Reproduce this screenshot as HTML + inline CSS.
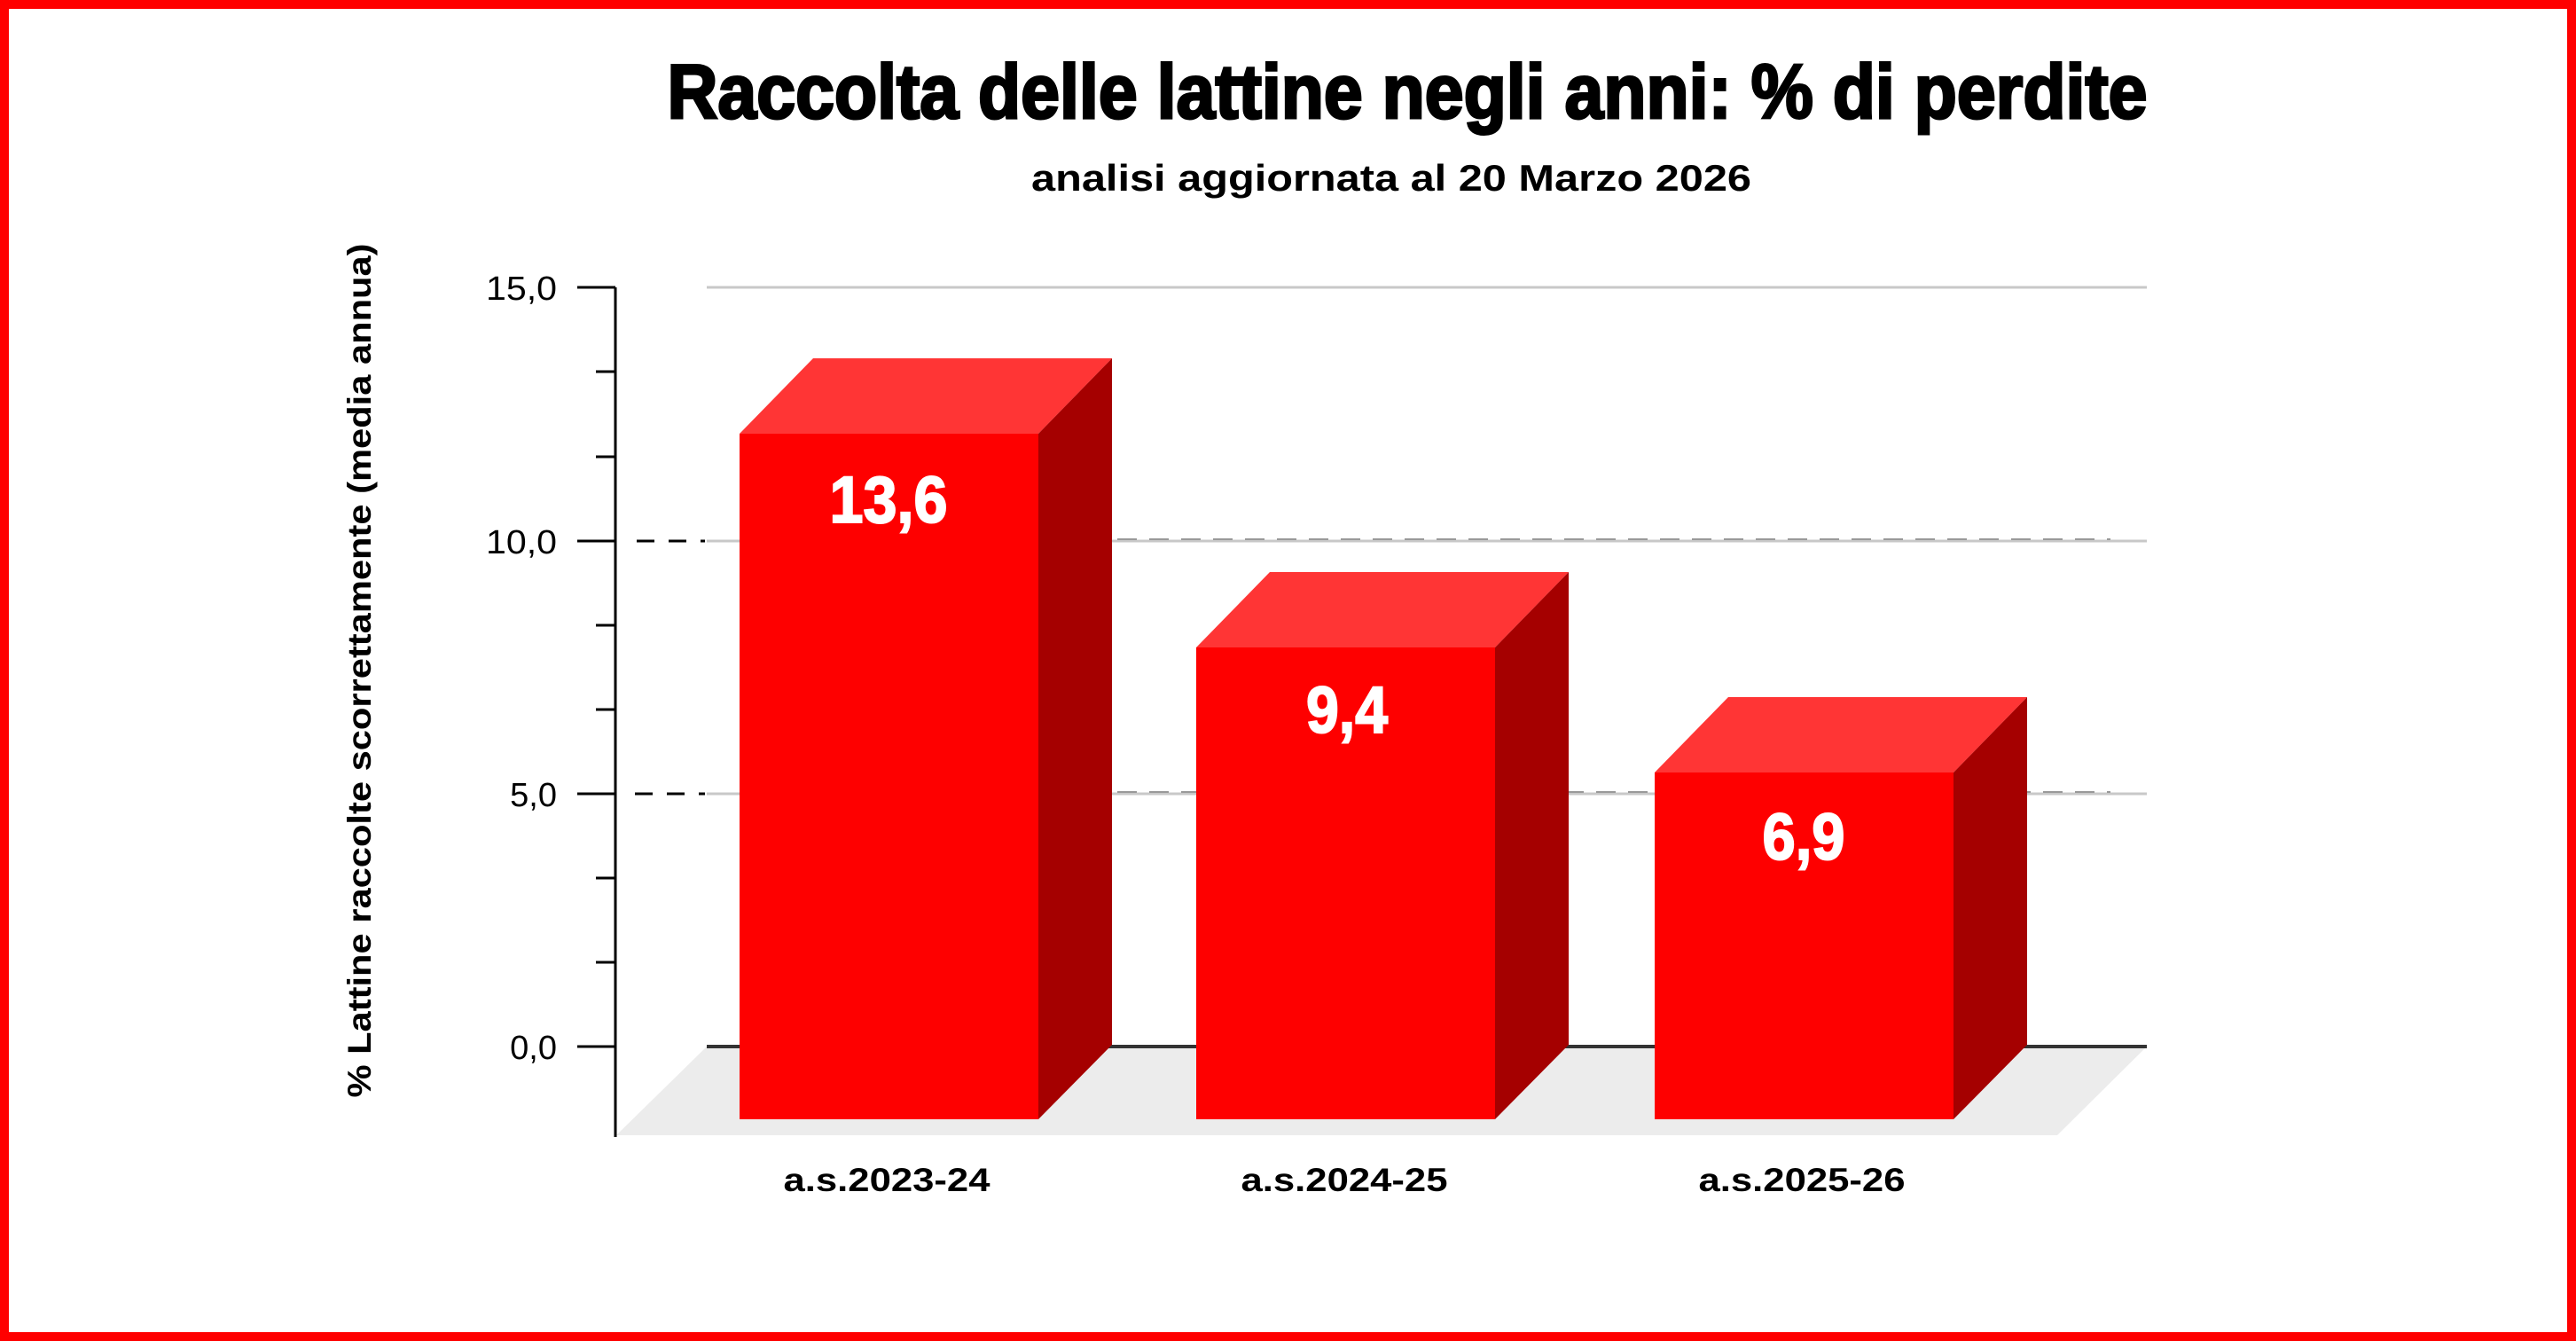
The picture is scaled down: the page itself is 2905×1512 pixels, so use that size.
<!DOCTYPE html>
<html><head><meta charset="utf-8"><style>
html,body{margin:0;padding:0;background:#fff;}
svg{display:block;}
</style></head><body>
<svg width="2905" height="1512" viewBox="0 0 2905 1512" xmlns="http://www.w3.org/2000/svg" font-family="Liberation Sans, sans-serif">
<rect x="0" y="0" width="2905" height="1512" fill="#fff"/>
<rect x="5" y="5" width="2895" height="1502" fill="none" stroke="#ff0000" stroke-width="10"/>
<text x="1587" y="133" text-anchor="middle" font-size="86" font-weight="bold" stroke="#000" stroke-width="3" textLength="1669" lengthAdjust="spacingAndGlyphs">Raccolta delle lattine negli anni: % di perdite</text>
<text x="1569" y="215" text-anchor="middle" font-size="42" font-weight="bold" textLength="812" lengthAdjust="spacingAndGlyphs">analisi aggiornata al 20 Marzo 2026</text>
<polygon points="797,1180 2421,1180 2320,1280 695,1280" fill="#ececec"/>
<g stroke="#c8c8c8" stroke-width="3">
<line x1="797" y1="324" x2="2421" y2="324"/>
<line x1="797" y1="610" x2="2421" y2="610"/>
<line x1="797" y1="895" x2="2421" y2="895"/>
</g>
<g stroke="#999" stroke-width="2" stroke-dasharray="22,14">
<line x1="1260" y1="608" x2="2380" y2="608"/>
<line x1="1260" y1="893" x2="2380" y2="893"/>
</g>
<line x1="797" y1="1180" x2="2421" y2="1180" stroke="#333" stroke-width="4"/>
<g stroke="#000" stroke-width="3" stroke-dasharray="20,16">
<line x1="718" y1="610" x2="795" y2="610"/>
<line x1="716" y1="895" x2="795" y2="895"/>
</g>
<g stroke="#000" stroke-width="3">
<line x1="694" y1="324" x2="694" y2="1282"/>
<line x1="651" y1="324" x2="694" y2="324"/>
<line x1="651" y1="610" x2="694" y2="610"/>
<line x1="651" y1="895" x2="694" y2="895"/>
<line x1="651" y1="1180" x2="694" y2="1180"/>
<line x1="672" y1="419" x2="694" y2="419"/>
<line x1="672" y1="515" x2="694" y2="515"/>
<line x1="672" y1="705" x2="694" y2="705"/>
<line x1="672" y1="800" x2="694" y2="800"/>
<line x1="672" y1="990" x2="694" y2="990"/>
<line x1="672" y1="1085" x2="694" y2="1085"/>
</g>
<g font-size="38" text-anchor="end">
<text x="628" y="338" textLength="80" lengthAdjust="spacingAndGlyphs">15,0</text>
<text x="628" y="624" textLength="80" lengthAdjust="spacingAndGlyphs">10,0</text>
<text x="628" y="909">5,0</text>
<text x="628" y="1194">0,0</text>
</g>
<text transform="translate(418,756) rotate(-90)" text-anchor="middle" font-size="37" font-weight="bold" textLength="963" lengthAdjust="spacingAndGlyphs">% Lattine raccolte scorrettamente (media annua)</text>
<g>
<polygon points="834,489 917,404 1254,404 1171,489" fill="#ff3535"/>
<polygon points="1171,489 1254,404 1254,1178 1171,1262" fill="#a50000"/>
<rect x="834" y="489" width="337" height="773" fill="#fe0000"/>
<polygon points="1349,730 1432,645 1769,645 1686,730" fill="#ff3535"/>
<polygon points="1686,730 1769,645 1769,1178 1686,1262" fill="#a50000"/>
<rect x="1349" y="730" width="337" height="532" fill="#fe0000"/>
<polygon points="1866,871 1949,786 2286,786 2203,871" fill="#ff3535"/>
<polygon points="2203,871 2286,786 2286,1178 2203,1262" fill="#a50000"/>
<rect x="1866" y="871" width="337" height="391" fill="#fe0000"/>
</g>
<g fill="#fff" stroke="#fff" stroke-width="2" font-size="74" font-weight="bold" text-anchor="middle">
<text x="1002" y="589" textLength="133" lengthAdjust="spacingAndGlyphs">13,6</text>
<text x="1519" y="826" textLength="92" lengthAdjust="spacingAndGlyphs">9,4</text>
<text x="2034" y="969" textLength="93" lengthAdjust="spacingAndGlyphs">6,9</text>
</g>
<g font-size="37" font-weight="bold" text-anchor="middle">
<text x="1000" y="1343" textLength="233" lengthAdjust="spacingAndGlyphs">a.s.2023-24</text>
<text x="1516" y="1343" textLength="233" lengthAdjust="spacingAndGlyphs">a.s.2024-25</text>
<text x="2032" y="1343" textLength="233" lengthAdjust="spacingAndGlyphs">a.s.2025-26</text>
</g>
</svg>
</body></html>
